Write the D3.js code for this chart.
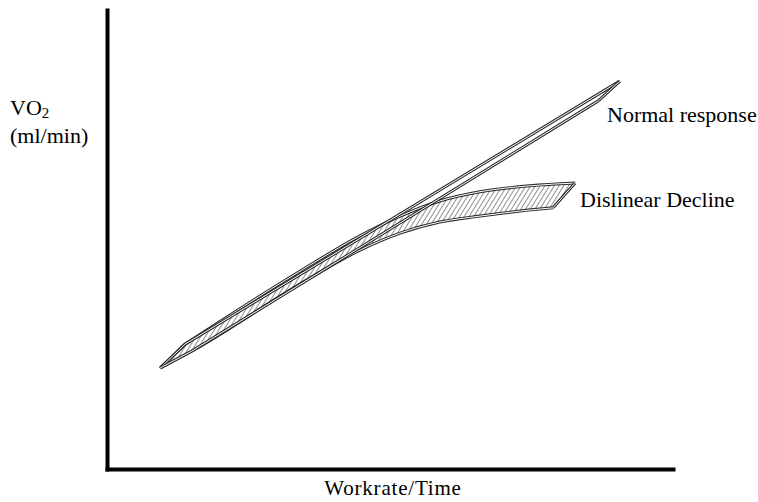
<!DOCTYPE html>
<html>
<head>
<meta charset="utf-8">
<script src="https://cdn.jsdelivr.net/npm/d3@7"></script>
<style>
  body { margin: 0; background: #fff; }
  text { font-family: "Liberation Serif", "Times New Roman", serif; fill: #000; }
</style>
</head>
<body>
<div id="chart"></div>
<script>
// schematic values: x = workrate/time (0-100), y = VO2 (0-100)
var normalBackX = [9.4, 13.8, 90.6];
var normalBackY = [22.0, 27.2, 84.5];
var normalFrontX = [9.4, 15.0, 86.8];
var normalFrontY = [22.0, 25.7, 80.2];

var declineBackX = [13.8, 34.1, 44.7, 51.8, 58.8, 65.9, 74.7, 82.7];
var declineBackY = [27.2, 43.1, 50.8, 55.1, 58.4, 60.4, 61.7, 62.3];
var declineFrontX = [9.4, 15.0, 34.1, 44.7, 51.8, 58.8, 65.9, 73.0, 78.8];
var declineFrontY = [22.0, 25.7, 40.3, 47.7, 51.4, 53.8, 55.1, 56.2, 56.9];

var width = 758, height = 502;

var svg = d3.select("#chart")
    .append("svg")
      .attr("width", width)
      .attr("height", height);

var x = d3.scaleLinear().domain([0, 100]).range([107, 673]);
var y = d3.scaleLinear().domain([0, 100]).range([469, 10]);

function pts(xs, ys) {
    return xs.map(function(d, i) { return [d, ys[i]]; });
}

var line = d3.line()
    .x(function(d) { return x(d[0]); })
    .y(function(d) { return y(d[1]); });

var curve = d3.line()
    .x(function(d) { return x(d[0]); })
    .y(function(d) { return y(d[1]); })
    .curve(d3.curveMonotoneX);

// hatch pattern for the band
var defs = svg.append("defs");
defs.append("pattern")
    .attr("id", "hatch")
    .attr("patternUnits", "userSpaceOnUse")
    .attr("width", 4)
    .attr("height", 4)
    .attr("patternTransform", "rotate(32)")
  .append("line")
    .attr("x1", 0).attr("y1", 0)
    .attr("x2", 0).attr("y2", 4)
    .attr("stroke", "#333")
    .attr("stroke-width", 1.1);

var declineBack = pts(declineBackX, declineBackY);
var declineFront = pts(declineFrontX, declineFrontY);
var normalBack = pts(normalBackX, normalBackY);
var normalFront = pts(normalFrontX, normalFrontY);

// decline band fill
var bandPath = curve(declineBack) + "L" + curve(declineFront.slice().reverse()).slice(1) + "Z";
svg.append("path")
    .attr("d", "M" + x(declineFront[0][0]) + "," + y(declineFront[0][1]) + "L" + bandPath.slice(1))
    .attr("fill", "url(#hatch)")
    .attr("stroke", "none");

// edges drawn as double lines
function edge(d) {
    svg.append("path").attr("d", d).attr("fill", "none")
        .attr("stroke", "#2a2a2a").attr("stroke-width", 3).attr("stroke-linejoin", "round");
    svg.append("path").attr("d", d).attr("fill", "none")
        .attr("stroke", "#fff").attr("stroke-width", 1).attr("stroke-linejoin", "round");
}

edge(line([declineFront[0], declineBack[0]]) + curve(declineBack).replace("M", "L"));
edge(curve(declineFront));
edge(line([declineFront[declineFront.length - 1], declineBack[declineBack.length - 1]]));

edge(line(normalBack));
edge(line(normalFront));
edge(line([normalFront[2], normalBack[2]]));

// axes
svg.append("g")
    .attr("transform", "translate(0," + y(0) + ")")
    .call(d3.axisBottom(x).tickValues([]).tickSizeOuter(0));
svg.append("g")
    .attr("transform", "translate(" + x(0) + ",0)")
    .call(d3.axisLeft(y).tickValues([]).tickSizeOuter(0));
svg.selectAll(".domain")
    .attr("stroke", "#000")
    .attr("stroke-width", 4)
    .attr("stroke-linecap", "square");

// labels
svg.append("text")
    .attr("x", 393)
    .attr("y", 495)
    .attr("text-anchor", "middle")
    .style("font-size", "21px")
    .style("letter-spacing", "0.8px")
    .text("Workrate/Time");

var vo = svg.append("text")
    .attr("x", 10)
    .attr("y", 115)
    .style("font-size", "22px");
vo.append("tspan").text("VO");
vo.append("tspan").attr("dy", 3).style("font-size", "15px").text("2");

svg.append("text")
    .attr("x", 10)
    .attr("y", 143)
    .style("font-size", "22px")
    .text("(ml/min)");

svg.append("text")
    .attr("x", 607)
    .attr("y", 122)
    .style("font-size", "22px")
    .text("Normal response");

svg.append("text")
    .attr("x", 580)
    .attr("y", 207)
    .style("font-size", "22px")
    .text("Dislinear Decline");
</script>
</body>
</html>
